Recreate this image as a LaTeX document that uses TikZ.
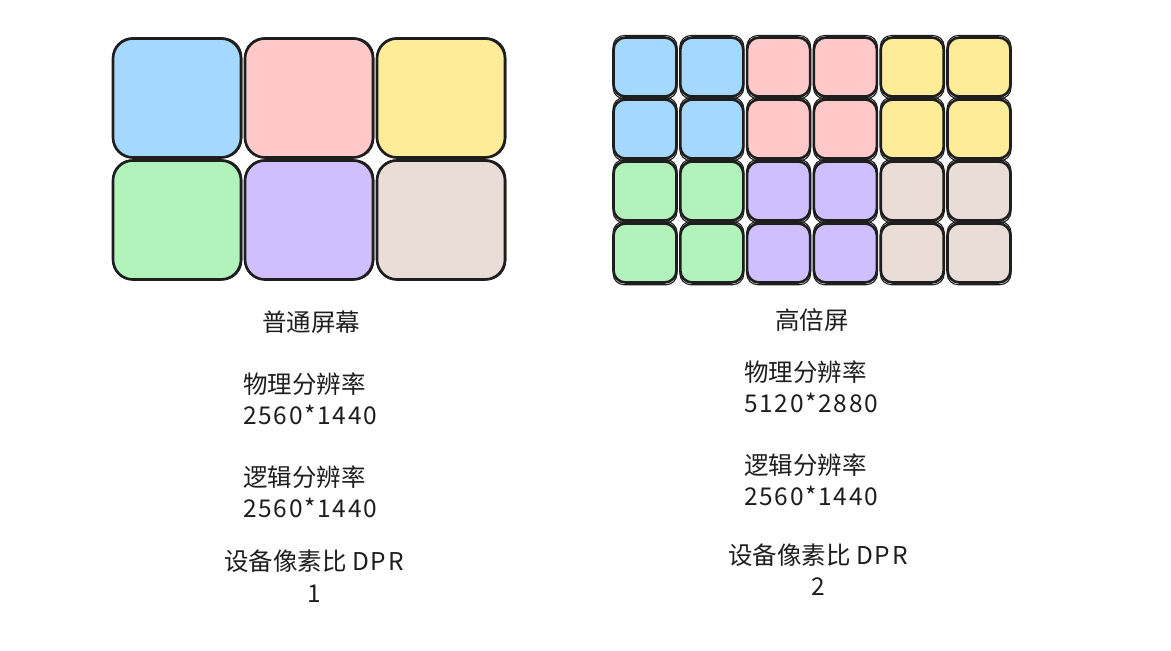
\documentclass[tikz,border=0pt]{standalone}
\usepackage{fontspec}
\setmainfont{Noto Sans CJK SC}
\newcommand\handnum[1]{{\addfontfeature{LetterSpace=7}#1}}
\definecolor{ink}{HTML}{1E1E1E}
\definecolor{c0}{HTML}{A5D8FF}
\definecolor{c1}{HTML}{FFC9C9}
\definecolor{c2}{HTML}{FFEC99}
\definecolor{c3}{HTML}{B2F2BB}
\definecolor{c4}{HTML}{D0BFFF}
\definecolor{c5}{HTML}{EADDD7}
\tikzset{
  pixel/.style={draw=ink, line width=2.6pt, inner sep=0pt},
  bigpixel/.style={pixel, rounded corners=20pt, minimum width=128pt, minimum height=119pt},
  smallpixel/.style={pixel, rounded corners=12pt, minimum width=63pt, minimum height=59pt},
  sketch/.style={draw=ink, line width=1.1pt},
  label/.style={text=ink, inner sep=0pt, font=\fontsize{24.5}{28}\selectfont},
}
\begin{document}
\begin{tikzpicture}[x=1pt,y=-1pt]
    \useasboundingbox (0,0) rectangle (1171,651);
    % normal screen
    \begin{scope}
        \foreach \r in {0,1}
            \foreach \c in {0,1,2} {
                \pgfmathtruncatemacro\k{3*\r+\c}
                \node[bigpixel, fill=c\k] (n-\r-\c) at ({177+132*\c},{98+122*\r}) {};
                \draw[sketch, rounded corners=19pt] ([shift={(1.2,0.8)}]n-\r-\c.north west) rectangle ([shift={(-0.6,-1.1)}]n-\r-\c.south east);
            }
        \path (311,322) node[label] (ntitle) {普通屏幕}
            (243,384) node[label, anchor=west] (nphys) {物理分辨率}
            ++(0,31) node[label, anchor=west] (nphysval) {\handnum{2560*1440}}
            (243,477) node[label, anchor=west] (nlog) {逻辑分辨率}
            ++(0,31) node[label, anchor=west] (nlogval) {\handnum{2560*1440}}
            (314,561) node[label] (ndpr) {设备像素比 \handnum{DPR}}
            ++(0,33) node[label] (ndprval) {1};
    \end{scope}
    % high dpi screen
    \begin{scope}
        \foreach \r in {0,...,3}
            \foreach \c in {0,...,5} {
                \pgfmathtruncatemacro\k{3*int(\r/2)+int(\c/2)}
                \node[smallpixel, fill=c\k] (h-\r-\c) at ({645+66.8*\c},{67+62*\r}) {};
                \draw[sketch, rounded corners=11pt] ([shift={(0.9,-0.7)}]h-\r-\c.north west) rectangle ([shift={(-0.8,0.9)}]h-\r-\c.south east);
            }
        \path (812,320) node[label] (htitle) {高倍屏}
            (744,372) node[label, anchor=west] (hphys) {物理分辨率}
            ++(0,31) node[label, anchor=west] (hphysval) {\handnum{5120*2880}}
            (744,465) node[label, anchor=west] (hlog) {逻辑分辨率}
            ++(0,31) node[label, anchor=west] (hlogval) {\handnum{2560*1440}}
            (818,555) node[label] (hdpr) {设备像素比 \handnum{DPR}}
            ++(0,32) node[label] (hdprval) {2};
    \end{scope}
\end{tikzpicture}
\end{document}
